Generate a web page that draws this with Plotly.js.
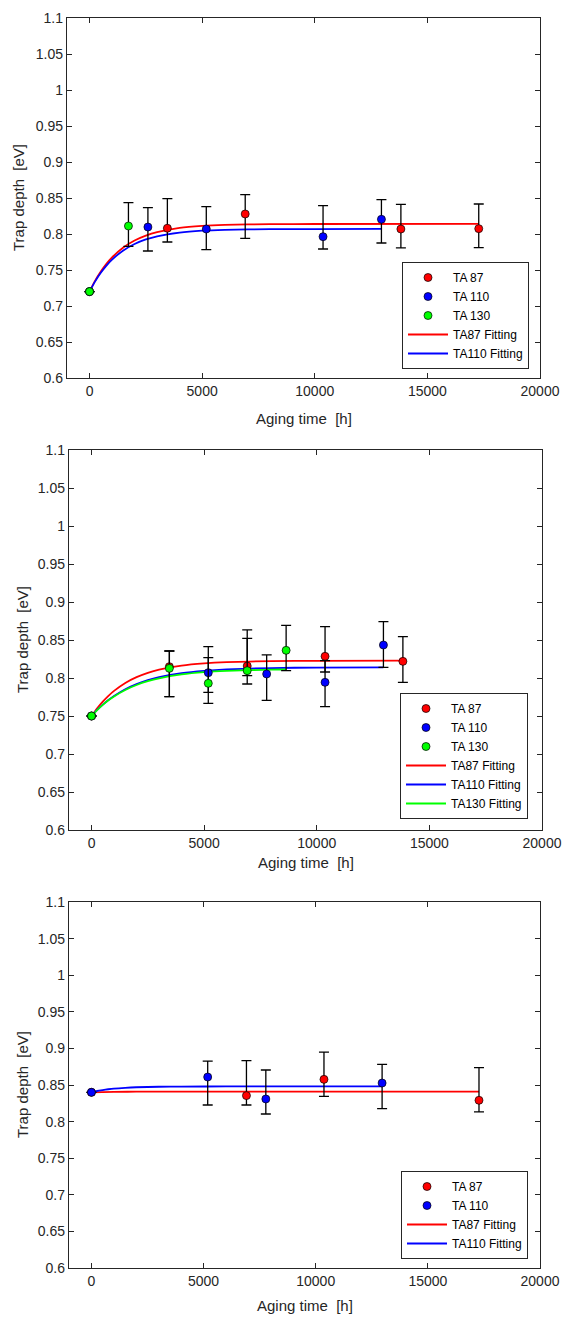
<!DOCTYPE html>
<html><head><meta charset="utf-8">
<script src="https://cdn.plot.ly/plotly-3.0.1.min.js"></script>
<style>html,body{margin:0;padding:0;background:#fff}#chart{width:563px;height:1317px}</style>
</head><body><div id="chart"></div>
<script>
// ---------- shared axis ticks ----------
const xTickVals = [0, 5000, 10000, 15000, 20000];
const xTickText = ['0', '5000', '10000', '15000', '20000'];
const yTickVals = [0.6, 0.65, 0.7, 0.75, 0.8, 0.85, 0.9, 0.95, 1, 1.05, 1.1];
const yTickText = ['0.6', '0.65', '0.7', '0.75', '0.8', '0.85', '0.9', '0.95', '1', '1.05', '1.1'];
const xTitle = 'Aging time&nbsp; [h]';
const yTitle = 'Trap depth&nbsp; [eV]';

// ---------- panel 1 ----------
const p1RedX = [0, 3456, 6912, 13824, 17280];
const p1RedY = [0.72, 0.808, 0.8278, 0.8069, 0.8074];
const p1RedHi = [null, 0.8491, 0.8546, 0.8412, 0.8417];
const p1RedLo = [null, 0.7889, 0.794, 0.7806, 0.781];

const p1BlueX = [0, 2592, 5184, 10368, 12960];
const p1BlueY = [0.72, 0.8097, 0.8069, 0.7963, 0.8204];
const p1BlueHi = [null, 0.8366, 0.838, 0.8394, 0.8477];
const p1BlueLo = [null, 0.7764, 0.7782, 0.7792, 0.7875];

const p1GreenX = [0, 1728];
const p1GreenY = [0.72, 0.8111];
const p1GreenHi = [null, 0.8435];
const p1GreenLo = [null, 0.7829];

const p1RedFitX = [0, 250, 500, 750, 1000, 1500, 2000, 2500, 3000, 4000, 5000, 6000, 8000, 10000, 17280];
const p1RedFitY = [0.72, 0.7352, 0.7479, 0.7586, 0.7675, 0.7813, 0.791, 0.7978, 0.8026, 0.8084, 0.8112, 0.8126, 0.8137, 0.8139, 0.814];
const p1BlueFitX = [0, 250, 500, 750, 1000, 1500, 2000, 2500, 3000, 4000, 5000, 6000, 8000, 10000, 12960];
const p1BlueFitY = [0.72, 0.7342, 0.7461, 0.7561, 0.7644, 0.7772, 0.7861, 0.7924, 0.7968, 0.802, 0.8046, 0.8058, 0.8067, 0.8069, 0.807];

// ---------- panel 2 ----------
const p2RedX = [0, 3456, 6912, 10368, 13824];
const p2RedY = [0.75, 0.8149, 0.8158, 0.8285, 0.8219];
const p2RedHi = [null, 0.8355, 0.8632, 0.8675, 0.8544];
const p2RedLo = [null, 0.7754, 0.7921, 0.8079, 0.7943];

const p2BlueX = [0, 5184, 7776, 10368, 12960];
const p2BlueY = [0.75, 0.807, 0.8053, 0.7943, 0.8434];
const p2BlueHi = [null, 0.8412, 0.8303, 0.8228, 0.8741];
const p2BlueLo = [null, 0.7667, 0.7706, 0.7623, 0.814];

const p2GreenX = [0, 3456, 5184, 6912, 8640];
const p2GreenY = [0.75, 0.8127, 0.793, 0.8096, 0.8364];
const p2GreenHi = [null, 0.8355, 0.8268, 0.8522, 0.8693];
const p2GreenLo = [null, 0.7754, 0.7811, 0.8031, 0.8096];

const p2RedFitX = [0, 250, 500, 750, 1000, 1500, 2000, 2500, 3000, 4000, 5000, 6000, 8000, 10000, 13824];
const p2RedFitY = [0.75, 0.7602, 0.769, 0.7766, 0.7831, 0.7935, 0.8011, 0.8068, 0.811, 0.8164, 0.8193, 0.8209, 0.8222, 0.8226, 0.8228];
const p2BlueFitX = [0, 250, 500, 750, 1000, 1500, 2000, 2500, 3000, 4000, 5000, 6000, 8000, 10000, 12960];
const p2BlueFitY = [0.75, 0.758, 0.7649, 0.7711, 0.7764, 0.7852, 0.7919, 0.7971, 0.801, 0.8064, 0.8095, 0.8114, 0.8131, 0.8137, 0.814];
const p2GreenFitX = [0, 250, 500, 750, 1000, 1500, 2000, 2500, 3000, 4000, 5000, 6000, 8000, 8640];
const p2GreenFitY = [0.75, 0.7578, 0.7646, 0.7706, 0.7758, 0.7843, 0.7908, 0.7958, 0.7996, 0.8047, 0.8077, 0.8094, 0.811, 0.8112];

// ---------- panel 3 ----------
const p3RedX = [0, 6912, 10368, 17280];
const p3RedY = [0.84, 0.8355, 0.8577, 0.8291];
const p3RedHi = [null, 0.8832, 0.895, 0.8736];
const p3RedLo = [null, 0.8227, 0.8345, 0.8132];

const p3BlueX = [0, 5184, 7776, 12960];
const p3BlueY = [0.84, 0.8609, 0.8309, 0.8527];
const p3BlueHi = [null, 0.8827, 0.8705, 0.8782];
const p3BlueLo = [null, 0.8227, 0.8104, 0.8177];

const p3RedFitX = [0, 1000, 2000, 17280];
const p3RedFitY = [0.84, 0.8406, 0.8409, 0.841];
const p3BlueFitX = [0, 250, 500, 750, 1000, 1500, 2000, 3000, 4000, 6000, 12960];
const p3BlueFitY = [0.84, 0.8418, 0.8431, 0.8442, 0.8451, 0.8462, 0.8469, 0.8476, 0.8479, 0.848, 0.848];

// ---------- styling / layout helpers ----------
const W = 563, H = 1317;
const FONT = 'Liberation Sans, Arial, Helvetica, sans-serif';
const AX = '#262626';
const RED = '#ff0000', BLUE = '#0000ff', GREEN = '#00ff00';
const px = v => v / W;
const py = v => 1 - v / H;

function pts(x, y, hi, lo, name, color, xa, ya, lg, rank) {
  return {
    type: 'scatter', mode: 'markers', x: x, y: y, name: name,
    xaxis: xa, yaxis: ya, legend: lg, legendrank: rank,
    marker: {color: color, size: 8, line: {color: '#000', width: 0.7}},
    error_y: {
      type: 'data', symmetric: false,
      array: y.map((v, i) => hi[i] == null ? null : hi[i] - v),
      arrayminus: y.map((v, i) => lo[i] == null ? null : v - lo[i]),
      color: '#000', thickness: 1.3, width: 5
    },
    hoverinfo: 'x+y'
  };
}
function fit(x, y, name, color, xa, ya, lg, rank) {
  return {
    type: 'scatter', mode: 'lines', x: x, y: y, name: name,
    xaxis: xa, yaxis: ya, legend: lg, legendrank: rank,
    line: {color: color, width: 1.8, shape: 'spline', smoothing: 0.6}
  };
}

const data = [
  fit(p1RedFitX, p1RedFitY, 'TA87 Fitting', RED, 'x', 'y', 'legend', 4),
  fit(p1BlueFitX, p1BlueFitY, 'TA110 Fitting', BLUE, 'x', 'y', 'legend', 5),
  pts(p1RedX, p1RedY, p1RedHi, p1RedLo, 'TA 87', RED, 'x', 'y', 'legend', 1),
  pts(p1BlueX, p1BlueY, p1BlueHi, p1BlueLo, 'TA 110', BLUE, 'x', 'y', 'legend', 2),
  pts(p1GreenX, p1GreenY, p1GreenHi, p1GreenLo, 'TA 130', GREEN, 'x', 'y', 'legend', 3),

  fit(p2RedFitX, p2RedFitY, 'TA87 Fitting', RED, 'x2', 'y2', 'legend2', 4),
  fit(p2BlueFitX, p2BlueFitY, 'TA110 Fitting', BLUE, 'x2', 'y2', 'legend2', 5),
  fit(p2GreenFitX, p2GreenFitY, 'TA130 Fitting', GREEN, 'x2', 'y2', 'legend2', 6),
  pts(p2RedX, p2RedY, p2RedHi, p2RedLo, 'TA 87', RED, 'x2', 'y2', 'legend2', 1),
  pts(p2BlueX, p2BlueY, p2BlueHi, p2BlueLo, 'TA 110', BLUE, 'x2', 'y2', 'legend2', 2),
  pts(p2GreenX, p2GreenY, p2GreenHi, p2GreenLo, 'TA 130', GREEN, 'x2', 'y2', 'legend2', 3),

  fit(p3RedFitX, p3RedFitY, 'TA87 Fitting', RED, 'x3', 'y3', 'legend3', 4),
  fit(p3BlueFitX, p3BlueFitY, 'TA110 Fitting', BLUE, 'x3', 'y3', 'legend3', 5),
  pts(p3RedX, p3RedY, p3RedHi, p3RedLo, 'TA 87', RED, 'x3', 'y3', 'legend3', 1),
  pts(p3BlueX, p3BlueY, p3BlueHi, p3BlueLo, 'TA 110', BLUE, 'x3', 'y3', 'legend3', 2)
];

// panel boxes in pixels: [left, right, top, bottom]
const boxes = [[67, 540, 18, 378], [69, 542, 450, 830], [69, 540, 902, 1268]];

function xAxis(b, anchor) {
  return {
    domain: [px(b[0]), px(b[1])], anchor: anchor, range: [-1000, 20000],
    tickvals: xTickVals, ticktext: xTickText,
    ticks: 'inside', ticklen: 5, tickwidth: 1, tickcolor: AX,
    showline: true, linecolor: AX, linewidth: 1.2, mirror: 'ticks',
    showgrid: false, zeroline: false,
    tickfont: {family: FONT, size: 14, color: AX}
  };
}
function yAxis(b, anchor) {
  return {
    domain: [py(b[3]), py(b[2])], anchor: anchor, range: [0.6, 1.1],
    tickvals: yTickVals, ticktext: yTickText,
    ticks: 'inside', ticklen: 5, tickwidth: 1, tickcolor: AX,
    showline: true, linecolor: AX, linewidth: 1.2, mirror: 'ticks',
    showgrid: false, zeroline: false,
    tickfont: {family: FONT, size: 14, color: AX}
  };
}
function legendAt(right, bottom) {
  return {
    x: px(right), y: py(bottom), xanchor: 'right', yanchor: 'bottom',
    bgcolor: '#ffffff', bordercolor: AX, borderwidth: 1,
    font: {family: FONT, size: 12, color: '#000'},
    itemwidth: 40, tracegroupgap: 0,
    entrywidth: 82, entrywidthmode: 'pixels'
  };
}

const xTitleY = [419, 862, 1305];
const yTitleX = [19, 22, 22];
const annotations = [];
boxes.forEach((b, i) => {
  annotations.push({
    xref: 'paper', yref: 'paper', x: px((b[0] + b[1]) / 2), y: py(xTitleY[i]),
    xanchor: 'center', yanchor: 'middle', showarrow: false, text: xTitle,
    font: {family: FONT, size: 15, color: AX}
  });
  annotations.push({
    xref: 'paper', yref: 'paper', x: px(yTitleX[i]), y: py((b[2] + b[3]) / 2),
    xanchor: 'center', yanchor: 'middle', showarrow: false, text: yTitle,
    textangle: -90, font: {family: FONT, size: 15, color: AX}
  });
});

const layout = {
  width: W, height: H,
  margin: {l: 0, r: 0, t: 0, b: 0},
  paper_bgcolor: '#ffffff', plot_bgcolor: '#ffffff',
  showlegend: true,
  xaxis: xAxis(boxes[0], 'y'), yaxis: yAxis(boxes[0], 'x'),
  xaxis2: xAxis(boxes[1], 'y2'), yaxis2: yAxis(boxes[1], 'x2'),
  xaxis3: xAxis(boxes[2], 'y3'), yaxis3: yAxis(boxes[2], 'x3'),
  legend: legendAt(529, 369),
  legend2: legendAt(528, 819),
  legend3: legendAt(528, 1259),
  annotations: annotations
};

Plotly.newPlot('chart', data, layout, {displayModeBar: false, staticPlot: true});
</script></body></html>
